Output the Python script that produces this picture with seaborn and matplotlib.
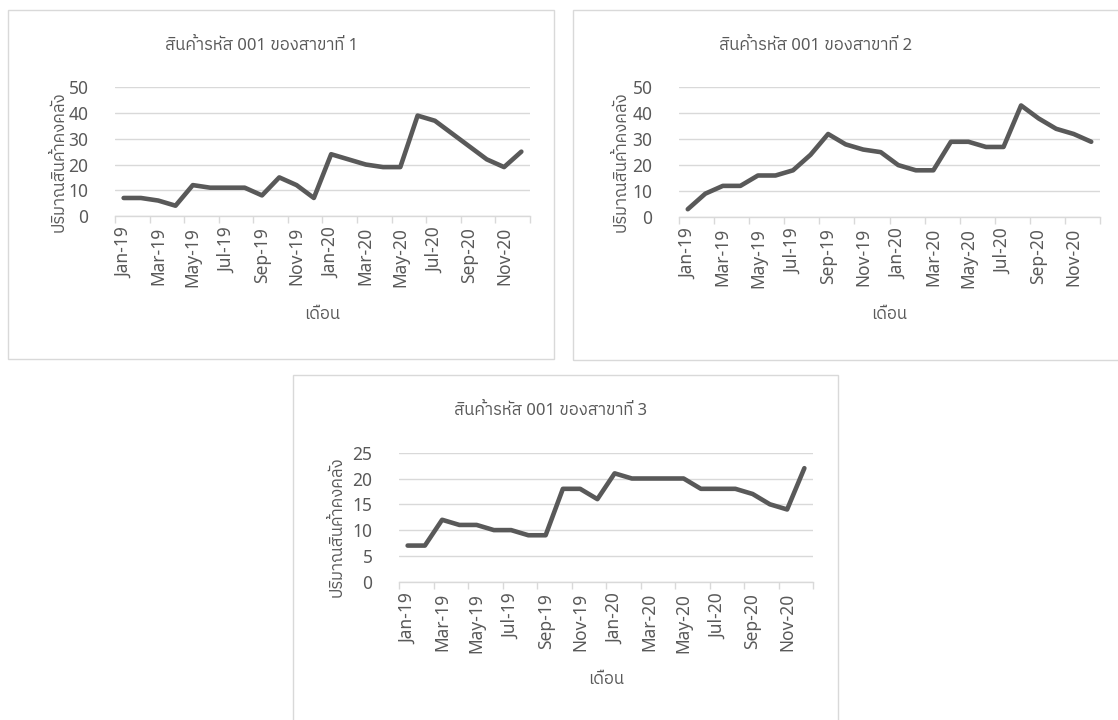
import matplotlib
matplotlib.use("Agg")
import matplotlib.pyplot as plt
from matplotlib import font_manager
from matplotlib.ft2font import FT2Font
from matplotlib.patches import Rectangle
import seaborn as sns
import pandas as pd
import numpy as np

# ---- data -------------------------------------------------------------
months = ["Jan-19", "Feb-19", "Mar-19", "Apr-19", "May-19", "Jun-19",
          "Jul-19", "Aug-19", "Sep-19", "Oct-19", "Nov-19", "Dec-19",
          "Jan-20", "Feb-20", "Mar-20", "Apr-20", "May-20", "Jun-20",
          "Jul-20", "Aug-20", "Sep-20", "Oct-20", "Nov-20", "Dec-20"]

branch1 = [7, 7, 6, 4, 12, 11, 11, 11, 8, 15, 12, 7,
           24, 22, 20, 19, 19, 39, 37, 32, 27, 22, 19, 25]
branch2 = [3, 9, 12, 12, 16, 16, 18, 24, 32, 28, 26, 25,
           20, 18, 18, 29, 29, 27, 27, 43, 38, 34, 32, 29]
branch3 = [7, 7, 12, 11, 11, 10, 10, 9, 9, 18, 18, 16,
           21, 20, 20, 20, 20, 18, 18, 18, 17, 15, 14, 22]

titles = ["สินค้ารหัส 001 ของสาขาที่ 1",
          "สินค้ารหัส 001 ของสาขาที่ 2",
          "สินค้ารหัส 001 ของสาขาที่ 3"]
x_title = "เดือน"
y_title = "ปริมาณสินค้าคงคลัง"
y_ticks_big = [0, 10, 20, 30, 40, 50]
y_ticks_small = [0, 5, 10, 15, 20, 25]


# ---- fonts: Latin face plus a face that carries Thai glyphs -----------
def thai_family():
    found = []
    for f in font_manager.fontManager.ttflist:
        try:
            cmap = FT2Font(f.fname).get_charmap()
        except Exception:
            continue
        if 0x0E2A in cmap and 0x0E49 in cmap and 0x0E19 in cmap:
            found.append(f)
    if not found:
        return None

    def rank(f):
        n = f.name.lower()
        score = 0
        if "thai" in n:
            score -= 10
        if "looped" in n:
            score += 3
        if "sans" in n:
            score -= 2
        if f.weight not in (400, "normal", "regular"):
            score += 5
        if f.style != "normal":
            score += 5
        return score

    found.sort(key=rank)
    return found[0].name


sns.set_theme(style="white")
thai = thai_family()
families = ["Noto Sans"] + ([thai] if thai else []) + ["DejaVu Sans"]
plt.rcParams["font.family"] = families

TEXT = "#595959"
GRID = "#D9D9D9"
LINE = "#595959"

W, H = 1118, 720
fig = plt.figure(figsize=(W / 100, H / 100), dpi=100)
fig.patch.set_facecolor("white")


def fx(px):
    return px / W


def fy(py):
    return 1 - py / H


# chart boxes (left, top, right, bottom) and plot areas in pixels
charts = [
    dict(box=(8, 10, 554, 359), plot=(115, 87.3, 530, 216),
         data=branch1, ticks=y_ticks_big, title=titles[0],
         title_xy=(262, 46), ylab_x=60, xlab_y=315),
    dict(box=(573, 10, 1125, 360), plot=(679, 87.3, 1100, 217),
         data=branch2, ticks=y_ticks_big, title=titles[1],
         title_xy=(816, 46), ylab_x=622, xlab_y=315),
    dict(box=(293, 375, 838, 730), plot=(399, 452.7, 813, 581.7),
         data=branch3, ticks=y_ticks_small, title=titles[2],
         title_xy=(551, 411), ylab_x=338, xlab_y=680),
]

xpos = np.arange(len(months))
label_pos = xpos[::2]
label_txt = months[::2]
boundary_pos = np.arange(-0.5, len(months), 2)

for c in charts:
    l, t, r, b = c["box"]
    fig.patches.append(Rectangle((fx(l), fy(b)), fx(r - l), (b - t) / H,
                                 transform=fig.transFigure, fill=False,
                                 edgecolor=GRID, linewidth=1.0, zorder=0))

    pl, pt, pr, pb = c["plot"]
    ax = fig.add_axes([fx(pl), fy(pb), fx(pr - pl), (pb - pt) / H])
    df = pd.DataFrame({"month": xpos, "qty": c["data"]})
    sns.lineplot(data=df, x="month", y="qty", ax=ax, color=LINE,
                 linewidth=3.3, solid_capstyle="round",
                 solid_joinstyle="round")

    ax.set_xlim(-0.5, len(months) - 0.5)
    ax.set_ylim(c["ticks"][0], c["ticks"][-1])
    ax.set_yticks(c["ticks"])
    # month labels sit on the data points, tick marks on the month bounds
    ax.set_xticks(label_pos)
    ax.set_xticklabels(label_txt, rotation=90)
    ax.set_xticks(boundary_pos, minor=True)

    ax.grid(axis="y", color=GRID, linewidth=1.0)
    ax.grid(axis="x", visible=False)
    ax.set_axisbelow(True)
    for s in ("left", "top", "right"):
        ax.spines[s].set_visible(False)
    ax.spines["bottom"].set_color(GRID)
    ax.spines["bottom"].set_linewidth(1.0)

    ax.tick_params(axis="x", which="major", bottom=True, length=0,
                   pad=8, labelsize=12.5, labelcolor=TEXT)
    ax.tick_params(axis="x", which="minor", bottom=True, length=5,
                   width=1.0, color=GRID)
    ax.tick_params(axis="y", left=False, pad=13, labelsize=12.5,
                   labelcolor=TEXT)

    ax.set_xlabel(x_title, fontsize=12, color=TEXT)
    ax.set_ylabel(y_title, fontsize=12, color=TEXT)
    ax.xaxis.set_label_coords(0.5, -(c["xlab_y"] - pb) / (pb - pt))
    ax.yaxis.set_label_coords(-(pl - c["ylab_x"]) / (pr - pl),
                              (pb - 162) / (pb - pt) if pb < 300
                              else (pb - 527) / (pb - pt))
    ax.xaxis.label.set_va("center")
    ax.yaxis.label.set_va("center")

    fig.text(fx(c["title_xy"][0]), fy(c["title_xy"][1]), c["title"],
             ha="center", va="center", fontsize=12, color=TEXT)

fig.savefig("out.png", dpi=100, facecolor="white")
